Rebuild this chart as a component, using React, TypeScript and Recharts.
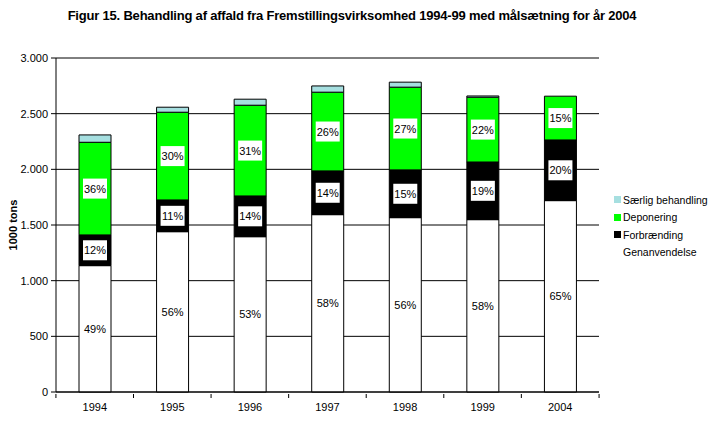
import { BarChart, Bar, XAxis, YAxis, CartesianGrid, LabelList } from 'recharts';

const years = ['1994', '1995', '1996', '1997', '1998', '1999', '2004'];
const genanvendelse = [1135, 1440, 1395, 1593, 1566, 1548, 1719];
const forbraending = [276, 285, 366, 393, 429, 518, 545];
const deponering = [832, 788, 815, 707, 743, 582, 393];
const saerlig = [66, 45, 54, 56, 45, 11, 0];
const genPct = ['49%', '56%', '53%', '58%', '56%', '58%', '65%'];
const forbPct = ['12%', '11%', '14%', '14%', '15%', '19%', '20%'];
const depPct = ['36%', '30%', '31%', '26%', '27%', '22%', '15%'];
const yTicks = [0, 500, 1000, 1500, 2000, 2500, 3000];

const COLORS = { gen: '#ffffff', forb: '#000000', dep: '#00ff00', saer: '#a6dfe0' };
const FONT = '"Liberation Sans", Arial, sans-serif';

const data = years.map((year, i) => ({
  year,
  gen: genanvendelse[i],
  forb: forbraending[i],
  dep: deponering[i],
  saer: saerlig[i],
  genPct: genPct[i],
  forbPct: forbPct[i],
  depPct: depPct[i],
}));

const legendItems = [
  { name: 'Særlig behandling', color: COLORS.saer },
  { name: 'Deponering', color: COLORS.dep },
  { name: 'Forbrænding', color: COLORS.forb },
  { name: 'Genanvendelse', color: COLORS.gen },
];

const fmt = (v: number) => (v >= 1000 ? `${Math.floor(v / 1000)}.${String(v % 1000).padStart(3, '0')}` : `${v}`);

const BoxLabel = ({ x, y, width, height, value }: any) => {
  if (!value) return null;
  const cx = Number(x) + Number(width) / 2;
  const cy = Number(y) + Number(height) / 2;
  return (
    <g>
      <rect x={cx - 12} y={cy - 10} width={24} height={20} fill="#fff" />
      <text x={cx} y={cy + 4} textAnchor="middle" fontSize={11} fontFamily={FONT} fill="#000">{value}</text>
    </g>
  );
};

const BAND = 544 / 7;

const XTick = ({ x, y, payload, index }: any) => (
  <g>
    <line x1={x - BAND / 2} x2={x - BAND / 2} y1={y} y2={y + 4} stroke="#000" />
    {index === years.length - 1 && <line x1={x + BAND / 2} x2={x + BAND / 2} y1={y} y2={y + 4} stroke="#000" />}
    <text x={x} y={y + 17} textAnchor="middle" fontSize={11} fontFamily={FONT} fill="#000">{payload.value}</text>
  </g>
);

export default function App() {
  return (
    <div style={{ position: 'absolute', left: 0, top: 0, width: 710, height: 422, background: '#fff', fontFamily: FONT }}>
      <div style={{ position: 'absolute', left: 0, top: 8, width: 704, textAlign: 'center', fontFamily: '"Liberation Sans Narrow", "Arial Narrow", sans-serif', fontWeight: 'bold', fontSize: 13, letterSpacing: -0.2, whiteSpace: 'nowrap' }}>
        Figur 15. Behandling af affald fra Fremstillingsvirksomhed 1994-99 med målsætning for år 2004
      </div>
      <BarChart width={710} height={422} data={data} margin={{ top: 58, right: 111, bottom: 8, left: 0 }}>
        <CartesianGrid vertical={false} stroke="#000" horizontalValues={yTicks} />
        <XAxis dataKey="year" height={22} axisLine={{ stroke: '#000' }} tickLine={false} tickSize={0} tick={<XTick />} interval={0} />
        <XAxis xAxisId="top" dataKey="year" orientation="top" height={0} axisLine={{ stroke: '#808080' }} tick={false} tickLine={false} />
        <YAxis
          width={56}
          domain={[0, 3000]}
          ticks={yTicks}
          tickFormatter={fmt}
          axisLine={{ stroke: '#000' }}
          tickLine={{ stroke: '#000' }}
          tickSize={5}
          tickMargin={3}
          tick={{ fontSize: 11, fill: '#000', fontFamily: FONT }}
          label={{ value: '1000 tons', angle: -90, position: 'center', dx: -15, fontSize: 11, fontWeight: 'bold', fill: '#000', fontFamily: FONT }}
        />
        <YAxis yAxisId="right" orientation="right" width={0} domain={[0, 3000]} axisLine={{ stroke: '#808080' }} tick={false} tickLine={false} />
        <Bar dataKey="gen" stackId="a" barSize={32} fill={COLORS.gen} stroke="#000" strokeWidth={1} isAnimationActive={false}>
          <LabelList dataKey="genPct" content={(p: any) => (
            <text x={Number(p.x) + Number(p.width) / 2} y={Number(p.y) + Number(p.height) / 2 + 4} textAnchor="middle" fontSize={11} fontFamily={FONT} fill="#000">{p.value}</text>
          )} />
        </Bar>
        <Bar dataKey="forb" stackId="a" barSize={32} fill={COLORS.forb} stroke="#000" strokeWidth={1} isAnimationActive={false}>
          <LabelList dataKey="forbPct" content={BoxLabel} />
        </Bar>
        <Bar dataKey="dep" stackId="a" barSize={32} fill={COLORS.dep} stroke="#000" strokeWidth={1} isAnimationActive={false}>
          <LabelList dataKey="depPct" content={BoxLabel} />
        </Bar>
        <Bar dataKey="saer" stackId="a" barSize={32} fill={COLORS.saer} stroke="#000" strokeWidth={1} isAnimationActive={false} />
      </BarChart>
      <div style={{ position: 'absolute', left: 614, top: 191, fontSize: 10.5, fontFamily: FONT, whiteSpace: 'nowrap' }}>
        {legendItems.map((it) => (
          <div key={it.name} style={{ display: 'flex', alignItems: 'center', height: 17.5 }}>
            <span style={{ display: 'inline-block', width: 7, height: 7, background: it.color, marginRight: 2 }} />
            <span>{it.name}</span>
          </div>
        ))}
      </div>
    </div>
  );
}
